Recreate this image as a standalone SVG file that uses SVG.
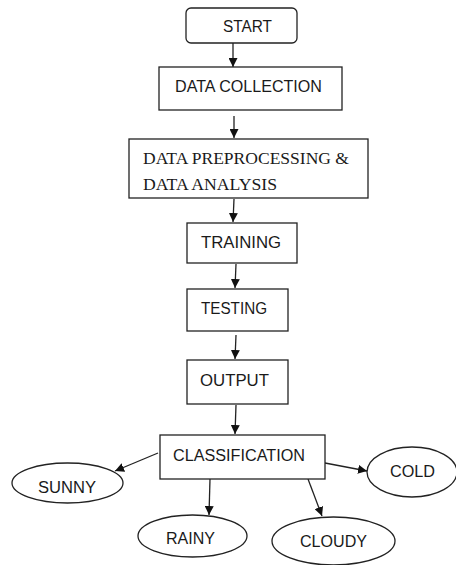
<svg xmlns="http://www.w3.org/2000/svg" width="456" height="565" viewBox="0 0 456 565">
<style>
.box{fill:#fff;stroke:#222;stroke-width:1.3}
.t{font-family:"Liberation Sans",Arial,sans-serif;font-size:16px;fill:#1a1a1a}
.s{font-family:"Liberation Serif","Times New Roman",serif;font-size:16.5px;fill:#1a1a1a}
.c{stroke:#222;stroke-width:1.3;fill:none;marker-end:url(#ah)}
</style>
<defs>
<marker id="ah" viewBox="0 0 10 10" refX="10" refY="5" markerWidth="9" markerHeight="9" markerUnits="userSpaceOnUse" orient="auto">
<path d="M0,0 L10,5 L0,10 z" fill="#111"/>
</marker>
</defs>
<rect width="456" height="565" fill="#fff"/>
<g id="connectors">
<line class="c" x1="233" y1="43" x2="233" y2="67"/>
<line class="c" x1="234" y1="116" x2="234" y2="138"/>
<line class="c" x1="234" y1="199" x2="233" y2="222"/>
<line class="c" x1="236" y1="264" x2="235" y2="288"/>
<line class="c" x1="236" y1="335" x2="235" y2="359"/>
<line class="c" x1="236" y1="405" x2="235" y2="434"/>
<line class="c" x1="158" y1="453" x2="115" y2="471"/>
<line class="c" x1="210" y1="479" x2="209" y2="515"/>
<line class="c" x1="308" y1="479" x2="322" y2="516"/>
<line class="c" x1="325" y1="463" x2="367" y2="471"/>
</g>
<g id="start">
<rect class="box" x="186" y="8" width="111" height="35" rx="5"/>
<text class="t" x="223" y="32" textLength="49" lengthAdjust="spacingAndGlyphs">START</text>
</g>
<g id="data-collection">
<rect class="box" x="159" y="67" width="183" height="43"/>
<text class="t" x="175" y="92" textLength="147" lengthAdjust="spacingAndGlyphs">DATA COLLECTION</text>
</g>
<g id="preprocessing">
<rect class="box" x="129" y="139" width="239" height="59"/>
<text class="s" x="143" y="164" textLength="206" lengthAdjust="spacingAndGlyphs">DATA PREPROCESSING  &amp;</text>
<text class="s" x="143" y="190" textLength="134" lengthAdjust="spacingAndGlyphs">DATA ANALYSIS</text>
</g>
<g id="training">
<rect class="box" x="187" y="223" width="110" height="40"/>
<text class="t" x="201" y="248" textLength="80" lengthAdjust="spacingAndGlyphs">TRAINING</text>
</g>
<g id="testing">
<rect class="box" x="187" y="289" width="101" height="42"/>
<text class="t" x="201" y="314" textLength="66" lengthAdjust="spacingAndGlyphs">TESTING</text>
</g>
<g id="output">
<rect class="box" x="187" y="360" width="101" height="44"/>
<text class="t" x="200" y="386" textLength="69" lengthAdjust="spacingAndGlyphs">OUTPUT</text>
</g>
<g id="classification">
<rect class="box" x="160" y="435" width="165" height="44"/>
<text class="t" x="173" y="461" textLength="132" lengthAdjust="spacingAndGlyphs">CLASSIFICATION</text>
</g>
<g id="sunny">
<ellipse class="box" cx="67.5" cy="483" rx="55.5" ry="20"/>
<text class="t" x="38" y="493" textLength="58" lengthAdjust="spacingAndGlyphs">SUNNY</text>
</g>
<g id="rainy">
<ellipse class="box" cx="192.5" cy="536" rx="54.5" ry="21"/>
<text class="t" x="166" y="544" textLength="49" lengthAdjust="spacingAndGlyphs">RAINY</text>
</g>
<g id="cloudy">
<ellipse class="box" cx="333.5" cy="541" rx="61.5" ry="24"/>
<text class="t" x="300" y="547" textLength="67" lengthAdjust="spacingAndGlyphs">CLOUDY</text>
</g>
<g id="cold">
<ellipse class="box" cx="412" cy="472" rx="45" ry="25"/>
<text class="t" x="390" y="477" textLength="45" lengthAdjust="spacingAndGlyphs">COLD</text>
</g>
</svg>
